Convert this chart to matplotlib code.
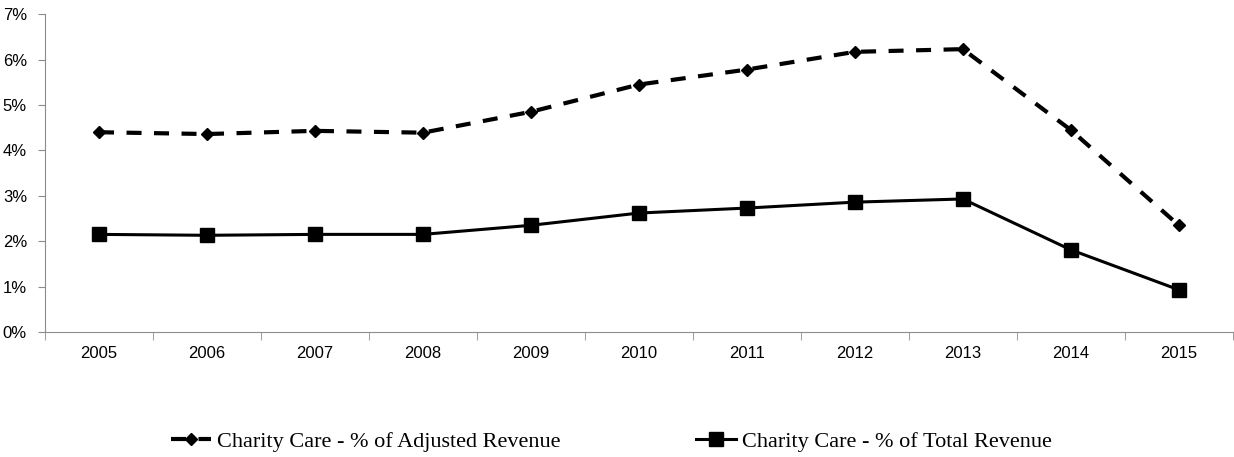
import numpy as np
import matplotlib.pyplot as plt
from matplotlib.ticker import FuncFormatter

years = ['2005', '2006', '2007', '2008', '2009', '2010', '2011', '2012', '2013', '2014', '2015']
adjusted = [4.40, 4.36, 4.43, 4.39, 4.85, 5.45, 5.78, 6.17, 6.23, 4.45, 2.35]
total = [2.15, 2.13, 2.15, 2.15, 2.35, 2.62, 2.73, 2.86, 2.93, 1.81, 0.93]

fig = plt.figure(figsize=(12.34, 4.57), dpi=100)
ax = fig.add_axes([0.0365, 0.2735, 0.9625, 0.6955])

x = np.arange(len(years))
l1, = ax.plot(x, adjusted, color='black', ls=(0, (3.6, 3.0)), lw=3, marker='D', ms=6,
              label='Charity Care - % of Adjusted Revenue')
l2, = ax.plot(x, total, color='black', ls='-', lw=2.2, marker='s', ms=9.5,
              label='Charity Care - % of Total Revenue')

ax.set_xlim(-0.5, len(years) - 0.5)
ax.set_ylim(0, 7)
ax.set_yticks(range(8))
ax.yaxis.set_major_formatter(FuncFormatter(lambda v, p: '%d%%' % v))
ax.set_xticks(x)
ax.set_xticklabels(years)
ax.set_xticks(np.arange(-0.5, len(years)), minor=True)
ax.tick_params(axis='x', which='major', length=0, pad=10)
ax.tick_params(axis='x', which='minor', length=6, color='#8c8c8c')
ax.tick_params(axis='y', length=5, color='#8c8c8c', pad=8)
for lab in ax.get_xticklabels() + ax.get_yticklabels():
    lab.set_fontfamily('Liberation Sans')
    lab.set_fontsize(12)

for s in ['top', 'right']:
    ax.spines[s].set_visible(False)
for s in ['left', 'bottom']:
    ax.spines[s].set_color('#8c8c8c')

fig.legend(handles=[l1, l2], loc='center', bbox_to_anchor=(0.4956, 0.033), ncol=2,
           frameon=False, handlelength=1.8, handletextpad=0.27, columnspacing=6.1,
           prop={'family': 'Liberation Serif', 'size': 16})

fig.savefig('out.png', dpi=100)
